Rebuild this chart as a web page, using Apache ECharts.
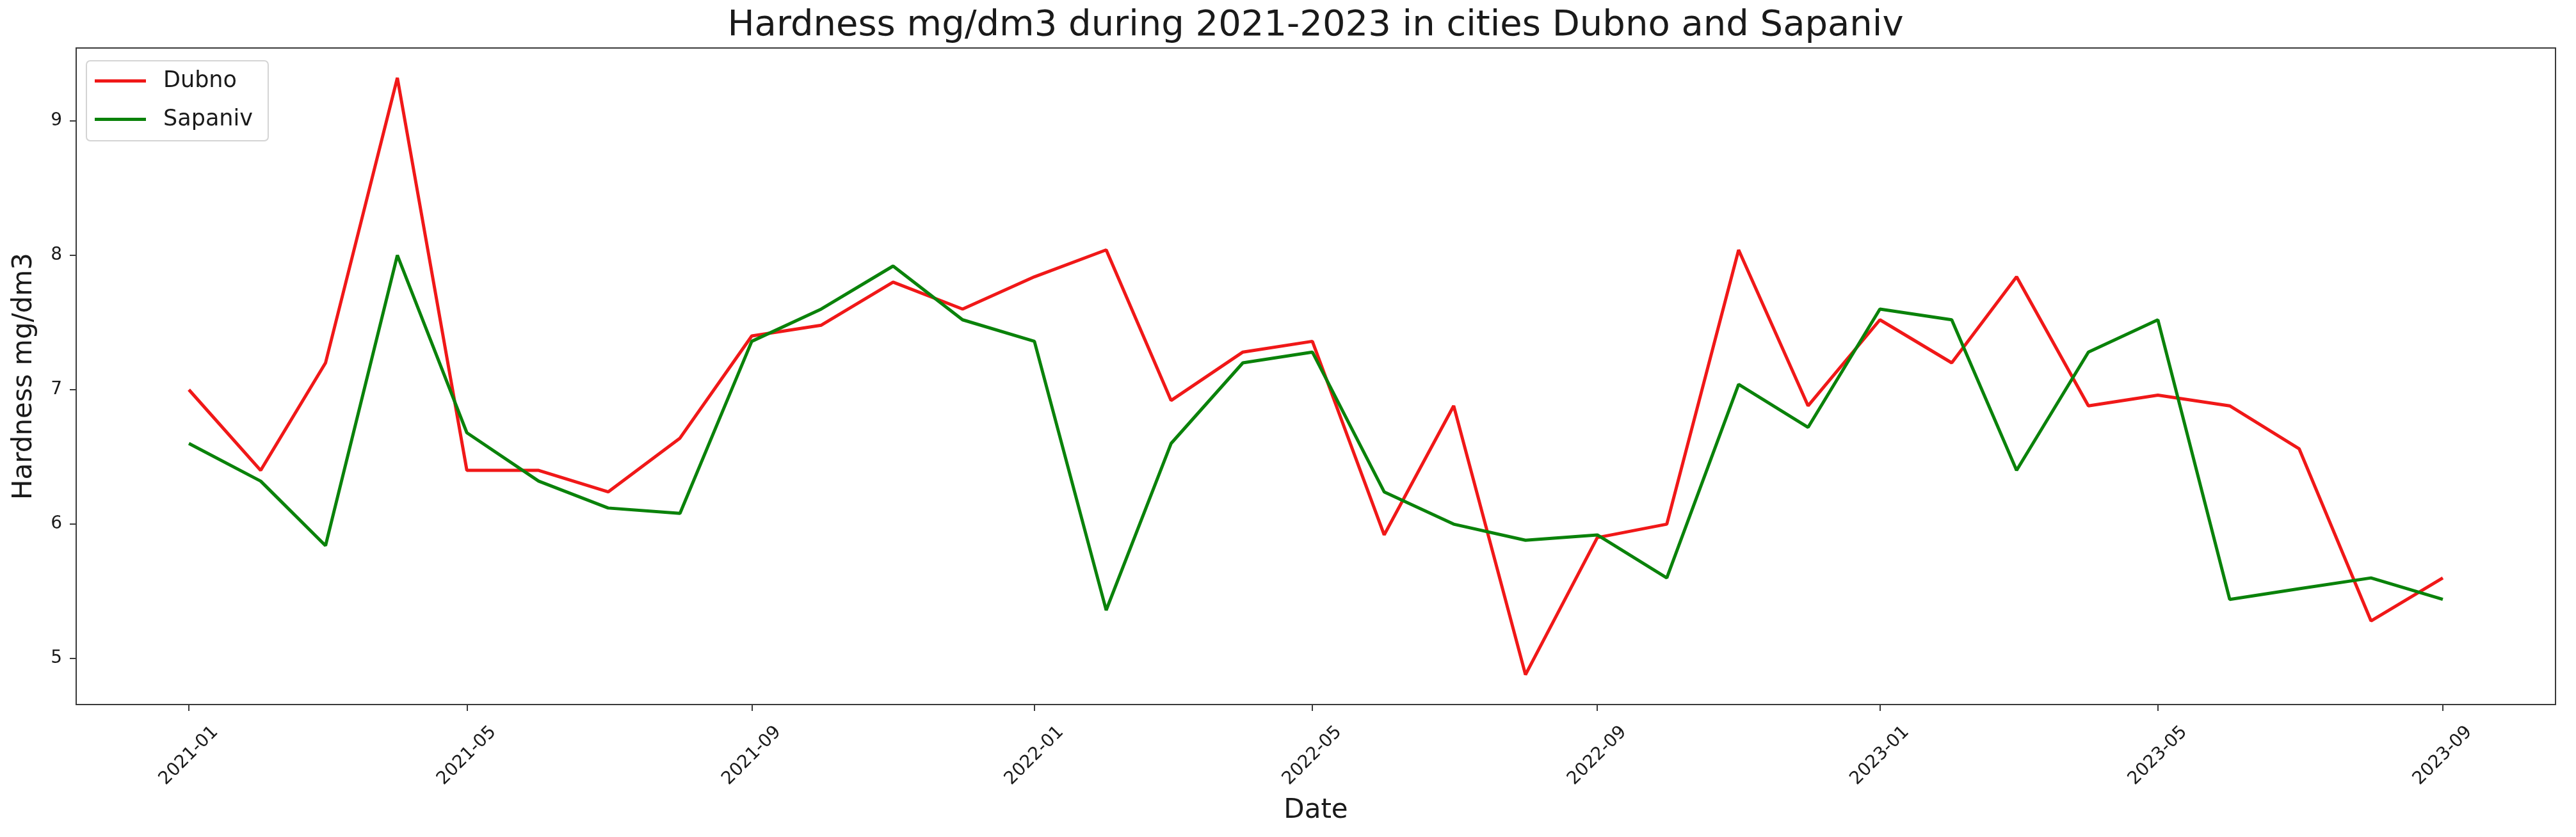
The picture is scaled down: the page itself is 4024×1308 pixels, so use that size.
<!DOCTYPE html>
<html>
<head>
<meta charset="utf-8">
<script src="https://cdn.jsdelivr.net/npm/echarts@6/dist/echarts.min.js"></script>
<style>
html,body{margin:0;padding:0;background:#fff;}
#chart{width:4024px;height:1308px;}
</style>
</head>
<body>
<div id="chart"></div>
<script>
const months = ['2021-01','2021-02','2021-03','2021-04','2021-05','2021-06','2021-07','2021-08','2021-09','2021-10','2021-11','2021-12',
  '2022-01','2022-02','2022-03','2022-04','2022-05','2022-06','2022-07','2022-08','2022-09','2022-10','2022-11','2022-12',
  '2023-01','2023-02','2023-03','2023-04','2023-05','2023-06','2023-07','2023-08','2023-09'];
const dubno = [7.0, 6.4, 7.2, 9.32, 6.4, 6.4, 6.24, 6.64, 7.4, 7.48, 7.8, 7.6,
  7.84, 8.04, 6.92, 7.28, 7.36, 5.92, 6.88, 4.88, 5.9, 6.0, 8.04, 6.88,
  7.52, 7.2, 7.84, 6.88, 6.96, 6.88, 6.56, 5.28, 5.6];
const sapaniv = [6.6, 6.32, 5.84, 8.0, 6.68, 6.32, 6.12, 6.08, 7.36, 7.6, 7.92, 7.52,
  7.36, 5.36, 6.6, 7.2, 7.28, 6.24, 6.0, 5.88, 5.92, 5.6, 7.04, 6.72,
  7.6, 7.52, 6.4, 7.28, 7.52, 5.44, 5.52, 5.6, 5.44];
const xTickLabels = ['2021-01','2021-05','2021-09','2022-01','2022-05','2022-09','2023-01','2023-05','2023-09'];
const yTickLabels = [5, 6, 7, 8, 9];

function ts(m) { const p = m.split('-'); return Date.UTC(+p[0], +p[1] - 1, 1); }
function fmt(v) { const d = new Date(v); const mm = d.getUTCMonth() + 1; return d.getUTCFullYear() + '-' + (mm < 10 ? '0' : '') + mm; }

const xs = months.map(ts);
const xMin0 = Math.min(...xs), xMax0 = Math.max(...xs);
const xPad = (xMax0 - xMin0) * 0.05;
const allY = dubno.concat(sapaniv);
const yMin0 = Math.min(...allY), yMax0 = Math.max(...allY);
const yPad = (yMax0 - yMin0) * 0.05;

const FONT = 'DejaVu Sans';
const chart = echarts.init(document.getElementById('chart'), null, {renderer: 'canvas'});
chart.setOption({
  animation: false,
  backgroundColor: '#fff',
  textStyle: {fontFamily: FONT},
  title: {
    text: 'Hardness mg/dm3 during 2021-2023 in cities Dubno and Sapaniv',
    left: 2055, top: 12, textAlign: 'center', padding: 0,
    textStyle: {fontFamily: FONT, fontSize: 56, fontWeight: 'normal', color: '#1a1a1a'}
  },
  legend: {
    left: 135, top: 95, orient: 'vertical', icon: 'rect',
    padding: [14, 24, 16, 13], itemGap: 25, itemWidth: 80, itemHeight: 5,
    backgroundColor: 'rgba(255,255,255,0.8)', borderColor: '#d4d4d4', borderWidth: 2, borderRadius: 6,
    textStyle: {fontFamily: FONT, fontSize: 35, color: '#1a1a1a', padding: [0, 0, 0, 22]},
    data: ['Dubno', 'Sapaniv']
  },
  grid: {left: 119, right: 32, top: 75, bottom: 207, show: true, borderColor: '#3a3a3a', borderWidth: 2, backgroundColor: '#fff'},
  xAxis: {
    type: 'value', min: xMin0 - xPad, max: xMax0 + xPad,
    name: 'Date', nameLocation: 'middle', nameGap: 145,
    nameTextStyle: {fontFamily: FONT, fontSize: 42, color: '#1a1a1a'},
    axisLine: {show: true, lineStyle: {color: '#3a3a3a', width: 2}},
    axisTick: {show: true, length: 10, lineStyle: {color: '#3a3a3a', width: 2}, customValues: xTickLabels.map(ts)},
    axisLabel: {
      customValues: xTickLabels.map(ts), formatter: fmt, rotate: 45, align: 'center', verticalAlign: 'middle',
      margin: 80, fontFamily: FONT, fontSize: 28, color: '#1a1a1a'
    },
    splitLine: {show: false}
  },
  yAxis: {
    type: 'value', min: yMin0 - yPad, max: yMax0 + yPad,
    name: 'Hardness mg/dm3', nameLocation: 'middle', nameGap: 60, nameRotate: 90,
    nameTextStyle: {fontFamily: FONT, fontSize: 42, color: '#1a1a1a'},
    axisLine: {show: true, lineStyle: {color: '#3a3a3a', width: 2}},
    axisTick: {show: true, length: 10, lineStyle: {color: '#3a3a3a', width: 2}, customValues: yTickLabels},
    axisLabel: {customValues: yTickLabels, margin: 22, fontFamily: FONT, fontSize: 28, color: '#1a1a1a'},
    splitLine: {show: false}
  },
  series: [
    {name: 'Dubno', type: 'line', data: xs.map((x, i) => [x, dubno[i]]), symbol: 'none', showSymbol: false,
      itemStyle: {color: '#f01818'}, lineStyle: {color: '#f01818', width: 5}},
    {name: 'Sapaniv', type: 'line', data: xs.map((x, i) => [x, sapaniv[i]]), symbol: 'none', showSymbol: false,
      itemStyle: {color: '#0a820a'}, lineStyle: {color: '#0a820a', width: 5}}
  ]
});
</script>
</body>
</html>
